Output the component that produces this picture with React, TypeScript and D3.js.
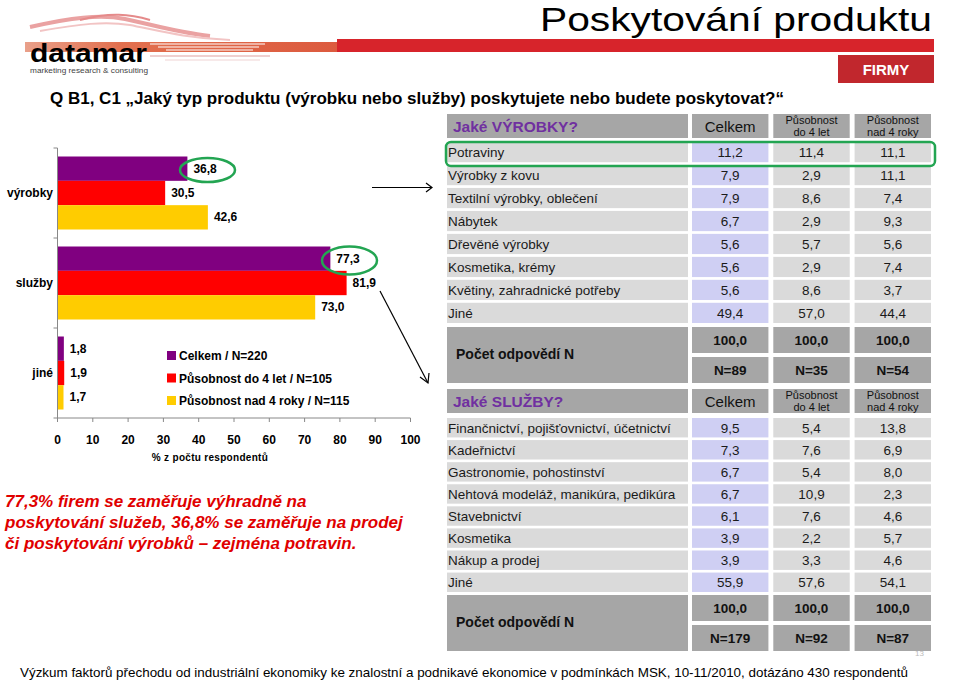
import { scaleLinear, scaleBand } from 'd3'

const categories = ['výrobky', 'služby', 'jiné'];
const seriesNames = ['Celkem / N=220', 'Působnost do 4 let / N=105', 'Působnost nad 4 roky / N=115'];
const seriesColors = ['#800080', '#ff0000', '#ffcc00'];
const celkem = [36.8, 77.3, 1.8];
const do4let = [30.5, 81.9, 1.9];
const nad4roky = [42.6, 73.0, 1.7];
const xTicks = [0, 10, 20, 30, 40, 50, 60, 70, 80, 90, 100];

const tableCols = ['Celkem', 'Působnost do 4 let', 'Působnost nad 4 roky'];

const productNames = ['Potraviny', 'Výrobky z kovu', 'Textilní výrobky, oblečení', 'Nábytek', 'Dřevěné výrobky', 'Kosmetika, krémy', 'Květiny, zahradnické potřeby', 'Jiné'];
const productCelkem = ['11,2', '7,9', '7,9', '6,7', '5,6', '5,6', '5,6', '49,4'];
const productDo4 = ['11,4', '2,9', '8,6', '2,9', '5,7', '2,9', '8,6', '57,0'];
const productNad4 = ['11,1', '11,1', '7,4', '9,3', '5,6', '7,4', '3,7', '44,4'];
const productTotals = ['100,0', '100,0', '100,0'];
const productN = ['N=89', 'N=35', 'N=54'];

const serviceNames = ['Finančnictví, pojišťovnictví, účetnictví', 'Kadeřnictví', 'Gastronomie, pohostinství', 'Nehtová modeláž, manikúra, pedikúra', 'Stavebnictví', 'Kosmetika', 'Nákup a prodej', 'Jiné'];
const serviceCelkem = ['9,5', '7,3', '6,7', '6,7', '6,1', '3,9', '3,9', '55,9'];
const serviceDo4 = ['5,4', '7,6', '5,4', '10,9', '7,6', '2,2', '3,3', '57,6'];
const serviceNad4 = ['13,8', '6,9', '8,0', '2,3', '4,6', '5,7', '4,6', '54,1'];
const serviceTotals = ['100,0', '100,0', '100,0'];
const serviceN = ['N=179', 'N=92', 'N=87'];

const font = 'Liberation Sans, Arial, sans-serif';
const headGray = '#a6a6a6';
const rowGray = '#dadada';
const lavender = '#cfcff3';
const green = '#23a552';

function DataTable({ title, top, rowsTop, rowsBottom, names, cols, totals, ns, sumTop }: any) {
  const x = scaleBand().domain(tableCols).range([692, 931]).paddingInner(0.06);
  const y = scaleBand().domain(names).range([rowsTop, rowsBottom]).paddingInner(0.12);
  const labelX = 447;
  const labelW = 688 - labelX;
  const sumH = 26;
  return (
    <g fontFamily={font}>
      {/* header */}
      <rect x={labelX} y={top} width={labelW} height={24} fill={headGray} />
      <text x={labelX + 6} y={top + 18} fontSize={15.5} fontWeight="bold" fill="#7030a0">{title}</text>
      {tableCols.map((c, i) => (
        <g key={c}>
          <rect x={x(c)} y={top} width={x.bandwidth()} height={24} fill={headGray} />
          {i === 0 ? (
            <text x={x(c)! + x.bandwidth() / 2} y={top + 18} fontSize={15} textAnchor="middle" fill="#111">{c}</text>
          ) : (
            <g>
              <text x={x(c)! + x.bandwidth() / 2} y={top + 10} fontSize={11} textAnchor="middle" fill="#111">Působnost</text>
              <text x={x(c)! + x.bandwidth() / 2} y={top + 21.5} fontSize={11} textAnchor="middle" fill="#111">{i === 1 ? 'do 4 let' : 'nad 4 roky'}</text>
            </g>
          )}
        </g>
      ))}
      {/* rows */}
      {names.map((n: string, r: number) => (
        <g key={n}>
          <rect x={labelX} y={y(n)} width={labelW} height={y.bandwidth()} fill={rowGray} />
          <text x={labelX + 1} y={y(n)! + y.bandwidth() / 2 + 5} fontSize={13.5} fill="#1a1a1a">{n}</text>
          {tableCols.map((c, i) => (
            <g key={c}>
              <rect x={x(c)} y={y(n)} width={x.bandwidth()} height={y.bandwidth()} fill={i === 0 ? lavender : rowGray} />
              <text x={x(c)! + x.bandwidth() / 2} y={y(n)! + y.bandwidth() / 2 + 5} fontSize={13.5} textAnchor="middle" fill="#1a1a1a">{cols[i][r]}</text>
            </g>
          ))}
        </g>
      ))}
      {/* summary */}
      <rect x={labelX} y={sumTop} width={labelW} height={sumH * 2 + 4} fill={headGray} />
      <text x={labelX + 9} y={sumTop + sumH + 6} fontSize={14} fontWeight="bold" fill="#111">Počet odpovědí N</text>
      {tableCols.map((c, i) => (
        <g key={c}>
          <rect x={x(c)} y={sumTop} width={x.bandwidth()} height={sumH} fill={headGray} />
          <rect x={x(c)} y={sumTop + sumH + 4} width={x.bandwidth()} height={sumH} fill={headGray} />
          <text x={x(c)! + x.bandwidth() / 2} y={sumTop + 18} fontSize={13.5} fontWeight="bold" textAnchor="middle" fill="#111">{totals[i]}</text>
          <text x={x(c)! + x.bandwidth() / 2} y={sumTop + sumH + 22} fontSize={13.5} fontWeight="bold" textAnchor="middle" fill="#111">{ns[i]}</text>
        </g>
      ))}
    </g>
  );
}

function App() {
  const width = 959;
  const height = 683;

  const x = scaleLinear().domain([0, 100]).range([57.5, 410.5]);
  const yCat = scaleBand().domain(categories).range([148, 418]);
  const ySer = scaleBand().domain(seriesNames).range([8.5, 81.5]);
  const values = [celkem, do4let, nad4roky];

  return (
    <div>
      <svg width={width} height={height} style={{ position: 'absolute', left: 0, top: 0 }} fontFamily={font}>
        <defs>
          <linearGradient id="band" x1="0" x2="1" y1="0" y2="0">
            <stop offset="0" stopColor="#e9a08a" />
            <stop offset="0.3" stopColor="#e2704f" />
            <stop offset="1" stopColor="#dc5a3e" />
          </linearGradient>
        </defs>
        <rect width={width} height={height} fill="#fff" />

        {/* header band and logo */}
        <rect x={25} y={42} width={315} height={10} fill="url(#band)" />
        <rect x={337} y={39} width={597} height={13} fill="#d7242b" />
        <path d="M30,27 C70,18 100,14 125,19 C150,24 175,32 210,36" fill="none" stroke="#eaa2a2" strokeWidth={4} />
        <path d="M40,31 C80,24 105,21 130,25 C160,31 185,38 230,40" fill="none" stroke="#f2c4c4" strokeWidth={2} />
        <path d="M80,20 C110,12 130,14 150,20" fill="none" stroke="#e58a8a" strokeWidth={2} />
        {[44, 47, 50].map((yy, i) => (
          <line key={yy} x1={150 + i * 8} x2={265 - i * 6} y1={yy} y2={yy} stroke="#fff" strokeWidth={1.2} />
        ))}
        <line x1={150} x2={270} y1={56} y2={56} stroke="#e8c0c0" strokeWidth={1.5} />
        <line x1={165} x2={260} y1={60} y2={60} stroke="#f0d4d4" strokeWidth={1.2} />
        <text x={30} y={62} fontSize={25} fontWeight="bold" fill="#000" textLength={117} lengthAdjust="spacingAndGlyphs">datamar</text>
        <text x={30} y={72.5} fontSize={7} fill="#444" textLength={118} lengthAdjust="spacingAndGlyphs">marketing research &amp; consulting</text>

        <text x={932} y={31} fontSize={33} textAnchor="end" fill="#000" textLength={392} lengthAdjust="spacingAndGlyphs">Poskytování produktu</text>
        <rect x={838} y={55} width={96} height={28} fill="#c1272d" />
        <text x={886} y={75} fontSize={15} fontWeight="bold" textAnchor="middle" fill="#fff">FIRMY</text>

        <text x={50} y={104} fontSize={17} fontWeight="bold" fill="#000">Q B1, C1 „Jaký typ produktu (výrobku nebo služby) poskytujete nebo budete poskytovat?“</text>

        {/* bar chart */}
        {categories.map((c, ci) => (
          <g key={c}>
            {seriesNames.map((s, si) => {
              const v = values[si][ci];
              const yy = yCat(c)! + ySer(s)!;
              return (
                <g key={s}>
                  <rect x={x(0)} y={yy} width={x(v) - x(0)} height={ySer.bandwidth()} fill={seriesColors[si]} />
                  <text x={x(v) + 6} y={yy + ySer.bandwidth() / 2 + 4} fontSize={12} fontWeight="bold" fill="#000">{v.toFixed(1).replace('.', ',')}</text>
                </g>
              );
            })}
            <text x={53} y={yCat(c)! + yCat.bandwidth() / 2 + 4} fontSize={12} fontWeight="bold" textAnchor="end" fill="#000">{c}</text>
          </g>
        ))}
        {/* axes */}
        <line x1={x(0)} x2={x(0)} y1={148} y2={418} stroke="#888" />
        {[148, 238, 328, 418].map(t => (
          <line key={t} x1={x(0) - 4} x2={x(0)} y1={t} y2={t} stroke="#888" />
        ))}
        <line x1={x(0)} x2={x(100)} y1={418} y2={418} stroke="#888" />
        {xTicks.map(t => (
          <g key={t}>
            <line x1={x(t)} x2={x(t)} y1={418} y2={422} stroke="#888" />
            <text x={x(t)} y={444} fontSize={12} fontWeight="bold" textAnchor="middle" fill="#000">{t}</text>
          </g>
        ))}
        <text x={210} y={461} fontSize={10} fontWeight="bold" textAnchor="middle" fill="#000" letterSpacing={0.3}>% z počtu respondentů</text>

        {/* legend */}
        {seriesNames.map((s, i) => (
          <g key={s}>
            <rect x={167} y={351 + i * 22.5} width={9} height={9} fill={seriesColors[i]} />
            <text x={179} y={360 + i * 22.5} fontSize={12} fontWeight="bold" fill="#000">{s}</text>
          </g>
        ))}

        {/* highlights */}
        <ellipse cx={207.5} cy={170} rx={27.5} ry={12} fill="none" stroke={green} strokeWidth={2.5} />
        <ellipse cx={349.5} cy={260.5} rx={27.5} ry={14} fill="none" stroke={green} strokeWidth={2.5} />

        {/* arrows */}
        <line x1={372} x2={432} y1={187.5} y2={187.5} stroke="#000" strokeWidth={1.2} />
        <path d="M426,183 L432,187.5 L426,192" fill="none" stroke="#000" strokeWidth={1.2} />
        <line x1={380} x2={428} y1={291} y2={383} stroke="#000" strokeWidth={1.2} />
        <path d="M420,377 L428,383 L429,373" fill="none" stroke="#000" strokeWidth={1.2} />

        {/* comment */}
        <g fontSize={17} fontWeight="bold" fontStyle="italic" fill="#e00000">
          <text x={5} y={507}>77,3%  firem se zaměřuje výhradně na</text>
          <text x={5} y={528}>poskytování služeb, 36,8% se zaměřuje na prodej</text>
          <text x={5} y={549}>či poskytování výrobků – zejména potravin.</text>
        </g>

        {/* tables */}
        <DataTable title="Jaké VÝROBKY?" top={114} rowsTop={142} rowsBottom={323}
          names={productNames} cols={[productCelkem, productDo4, productNad4]}
          totals={productTotals} ns={productN} sumTop={327} />
        <DataTable title="Jaké SLUŽBY?" top={389} rowsTop={418} rowsBottom={592}
          names={serviceNames} cols={[serviceCelkem, serviceDo4, serviceNad4]}
          totals={serviceTotals} ns={serviceN} sumTop={595} />
        <rect x={446} y={142} width={489} height={24} rx={5} fill="none" stroke={green} strokeWidth={2.5} />

        <text x={915} y={656} fontSize={8} fill="#bbb">13</text>
        <text x={20} y={677} fontSize={13} fill="#000" textLength={888} lengthAdjust="spacingAndGlyphs">Výzkum faktorů přechodu od industriální ekonomiky ke znalostní a podnikavé ekonomice v podmínkách MSK,  10-11/2010, dotázáno 430 respondentů</text>
      </svg>
    </div>
  );
}

export default App;
